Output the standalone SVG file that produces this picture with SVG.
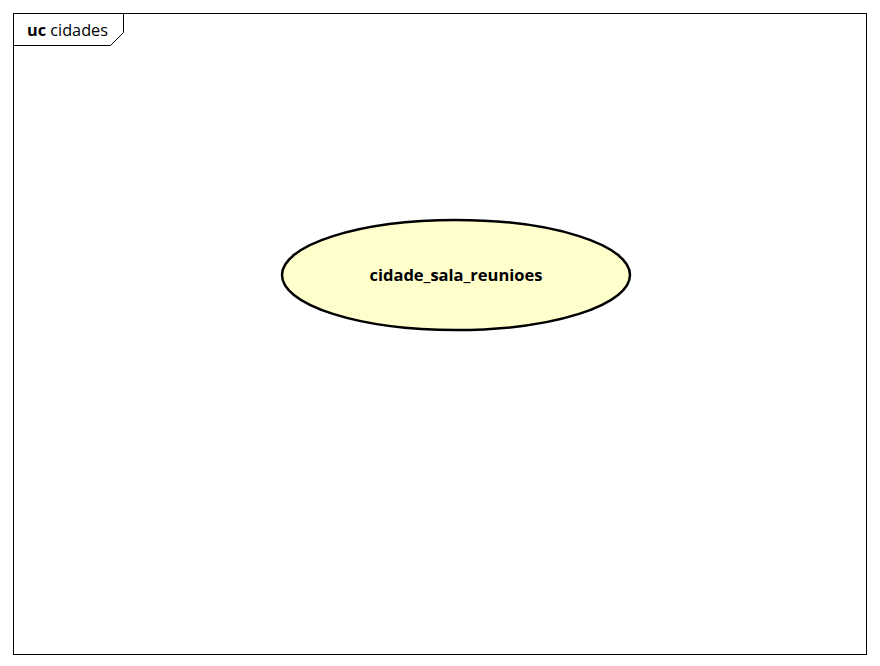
<svg xmlns="http://www.w3.org/2000/svg" width="880" height="666" viewBox="0 0 880 666">
<style>
.frame{fill:none;stroke:#000;stroke-width:1}
.uc{fill:#FFFFCC;stroke:#000;stroke-width:2.5}
.lbl{font-family:"Open Sans","DejaVu Sans",sans-serif;fill:#000}
</style>
<rect width="880" height="666" fill="#fff"/>
<g id="frame">
<rect class="frame" x="13.5" y="13.5" width="853" height="641"/>
<path class="frame" d="M13.5 45.5 H110.5 L123.5 32.5 V13.5"/>
<text class="lbl" x="27" y="35.5" font-size="16.2" textLength="81" lengthAdjust="spacingAndGlyphs"><tspan font-weight="bold">uc</tspan> cidades</text>
</g>
<g id="connectors"></g>
<g id="cidade_sala_reunioes">
<ellipse class="uc" cx="456" cy="275" rx="174" ry="55"/>
<text class="lbl" x="456" y="281" font-size="16.5" text-anchor="middle" font-weight="bold">cidade_sala_reunioes</text>
</g>
</svg>
